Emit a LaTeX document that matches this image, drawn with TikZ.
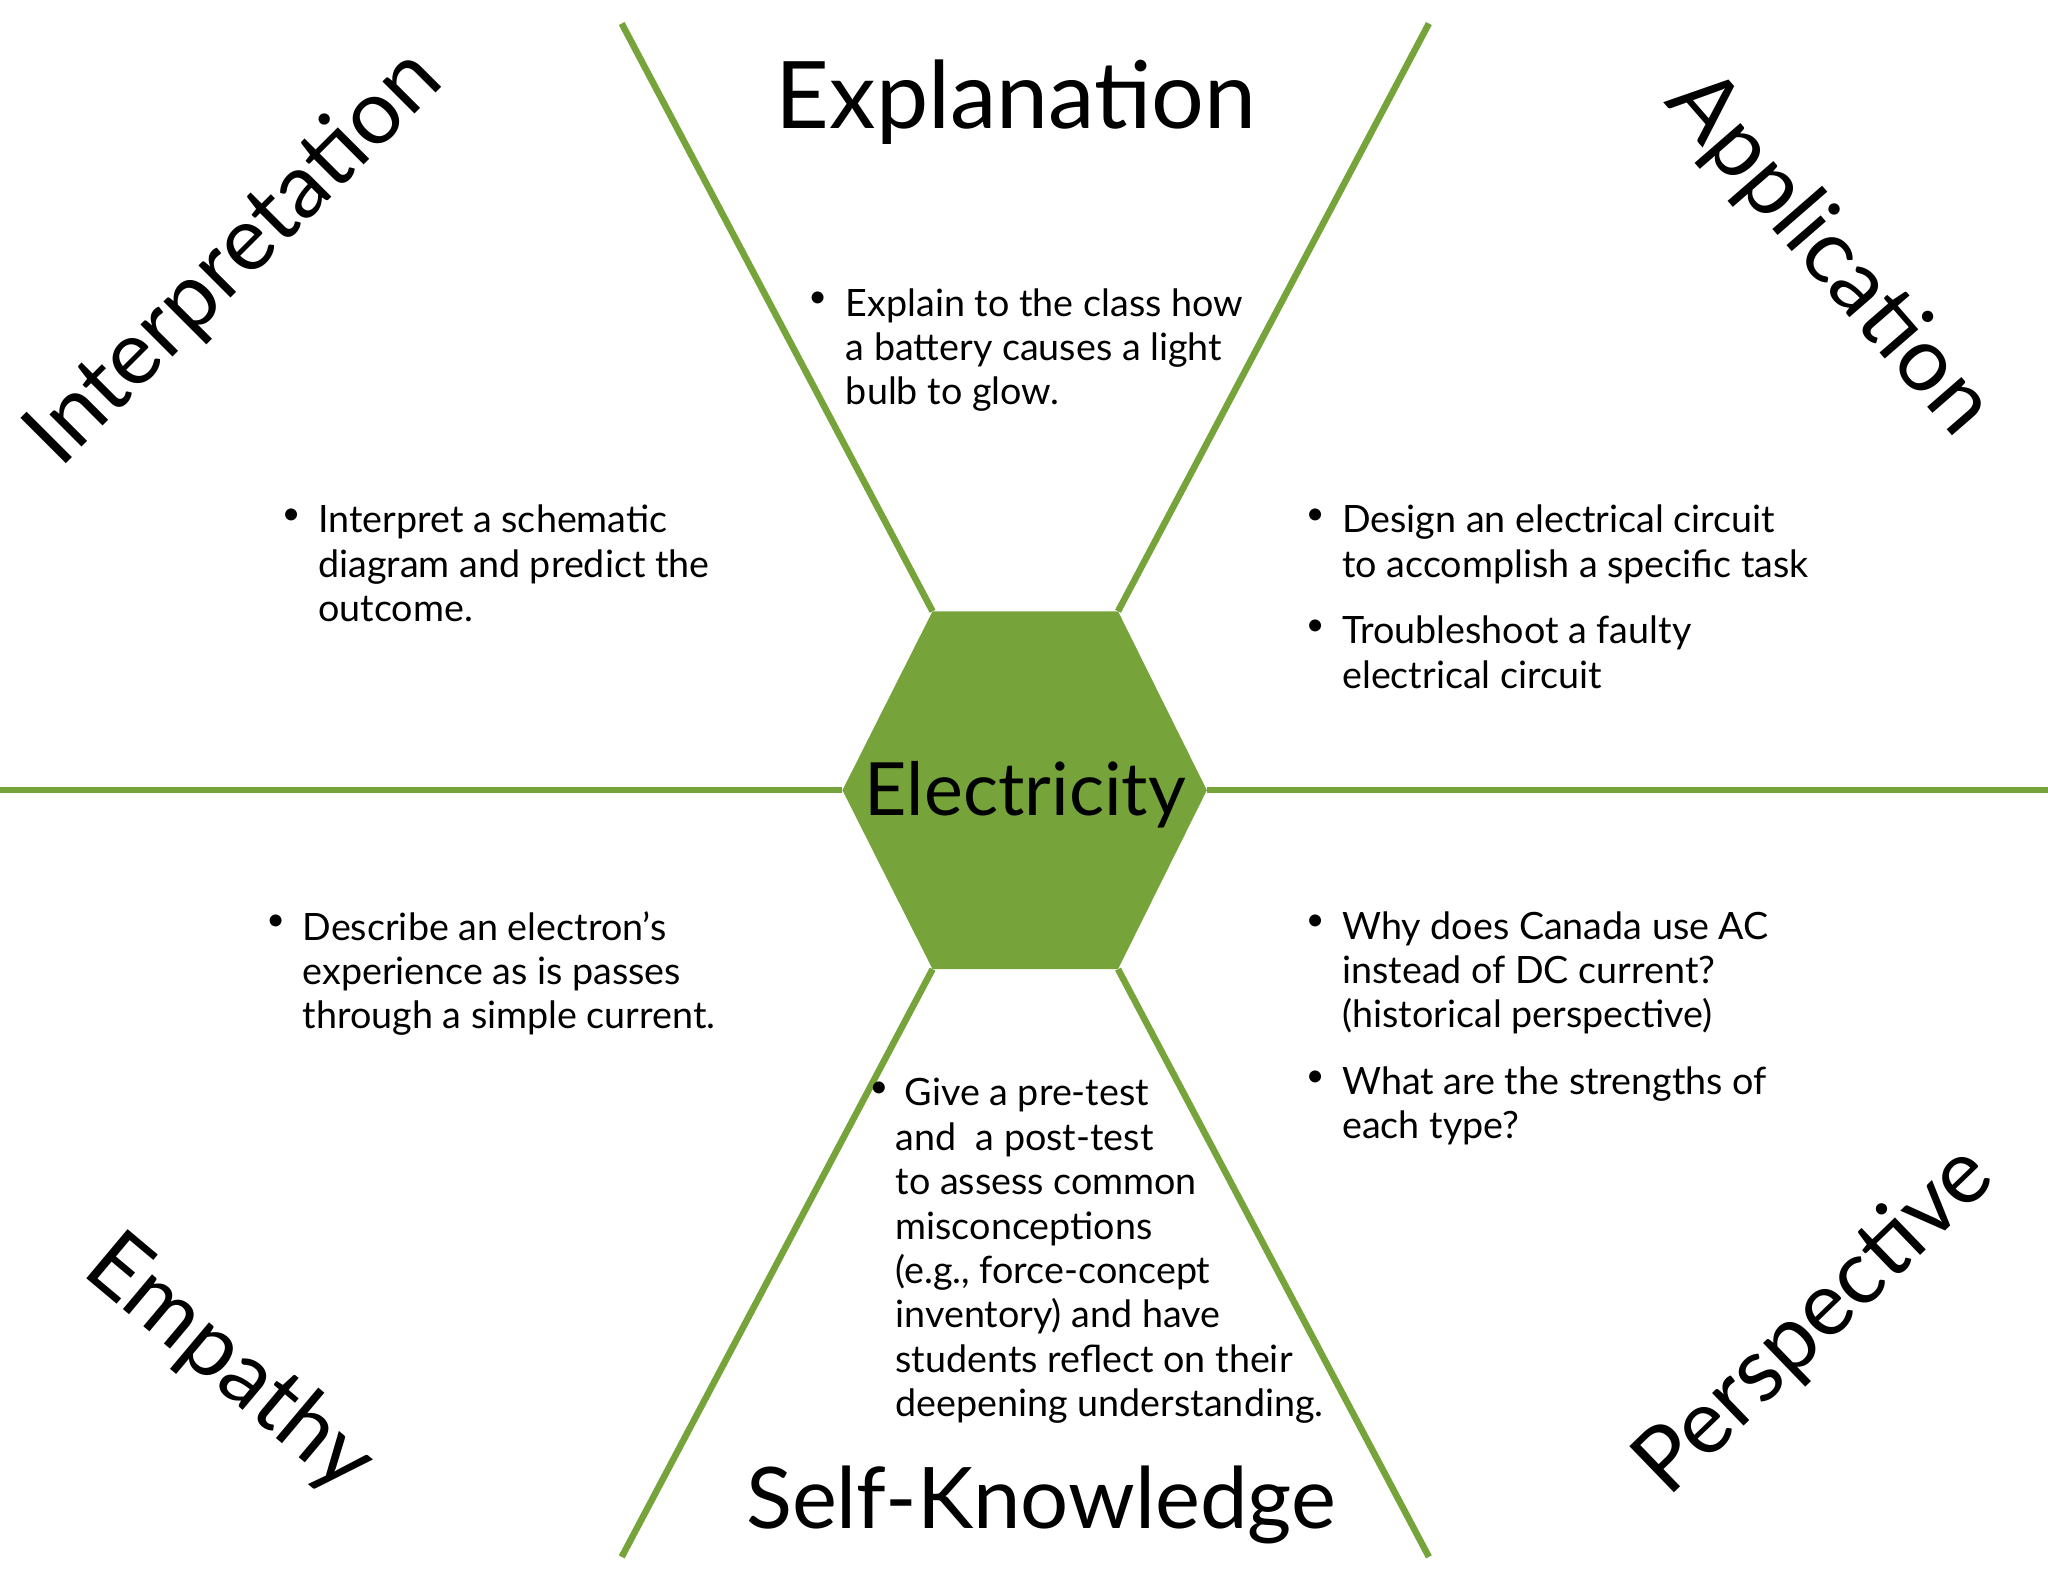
\documentclass[tikz,border=0pt]{standalone}
\usepackage{fontspec}
\setmainfont{Lato}
\definecolor{grn}{HTML}{76A43A}
\begin{document}
\begin{tikzpicture}[x=0.01cm,y=-0.01cm,
  gl/.style={draw=grn,line width=0.05cm},
  title/.style={font=\fontsize{19.5}{23}\selectfont,inner sep=0},
  body/.style={font=\fontsize{8.2}{9.65}\selectfont,align=left,anchor=north west,inner sep=0},
  bul/.style={font=\fontsize{7}{9.65}\selectfont,anchor=north,inner sep=0}]
\useasboundingbox (0,0) rectangle (1568,1211);
\coordinate (h1) at (714,468); \coordinate (h2) at (856,468); \coordinate (h3) at (924,605);
\coordinate (h4) at (856,742); \coordinate (h5) at (714,742); \coordinate (h6) at (645,605);
\coordinate (e1) at (476,18); \coordinate (e2) at (1094,18); \coordinate (e3) at (1568,605);
\coordinate (e4) at (1094,1192); \coordinate (e5) at (476,1192); \coordinate (e6) at (0,605);
\fill[grn] (h1)--(h2)--(h3)--(h4)--(h5)--(h6)--cycle;
\draw[gl] (h1)--(e1); \draw[gl] (h2)--(e2); \draw[gl] (h3)--(e3);
\draw[gl] (h4)--(e4); \draw[gl] (h5)--(e5); \draw[gl] (h6)--(e6);
\node[font=\fontsize{16}{18}\selectfont,inner sep=0,anchor=base] (el) at (785,624) {Electricity};
\node[title,anchor=base,font=\fontsize{20.3}{23}\selectfont] (ex) at (778,98) {Explanation};
\node[title,anchor=base,font=\fontsize{18.5}{23}\selectfont] (sk) at (797,1170) {Self-Knowledge};
\node[title,rotate=45] (in) at (180,198) {Interpretation};
\node[title,rotate=-49] (ap) at (1400,195) {Application};
\node[title,rotate=-40] (em) at (175,1045) {Empathy};
\node[title,rotate=44] (pe) at (1390,1012) {Perspective};
\node[bul] (b1) at (626,223) {•};
\node[body] (t1) at (647,220) {Explain to the class how\\a battery causes a light\\bulb to glow.};
\node[bul] (b2) at (223,389) {•};
\node[body] (t2) at (243,386) {Interpret a schematic\\diagram and predict the\\outcome.};
\node[bul] (b3) at (1007,389) {•};
\node[body] (t3) at (1027,386) {Design an electrical circuit\\to accomplish a specific task};
\node[bul] (b4) at (1007,474) {•};
\node[body] (t4) at (1027,471) {Troubleshoot a faulty\\electrical circuit};
\node[bul] (b5) at (211,700) {•};
\node[body] (t5) at (231,697) {Describe an electron's\\experience as is passes\\through a simple current.};
\node[bul] (b6) at (1007,700) {•};
\node[body] (t6) at (1027,697) {Why does Canada use AC\\instead of DC current?\\(historical perspective)};
\node[bul] (b7) at (1007,819) {•};
\node[body] (t7) at (1027,816) {What are the strengths of\\each type?};
\node[bul] (b8) at (673,828) {•};
\node[body] (t8a) at (692,825) {Give a pre-test};
\node[body] (t8) at (685,859) {and\ \ a post-test\\to assess common\\misconceptions\\(e.g., force-concept\\inventory) and have\\students reflect on their\\deepening understanding.};
\end{tikzpicture}
\end{document}
